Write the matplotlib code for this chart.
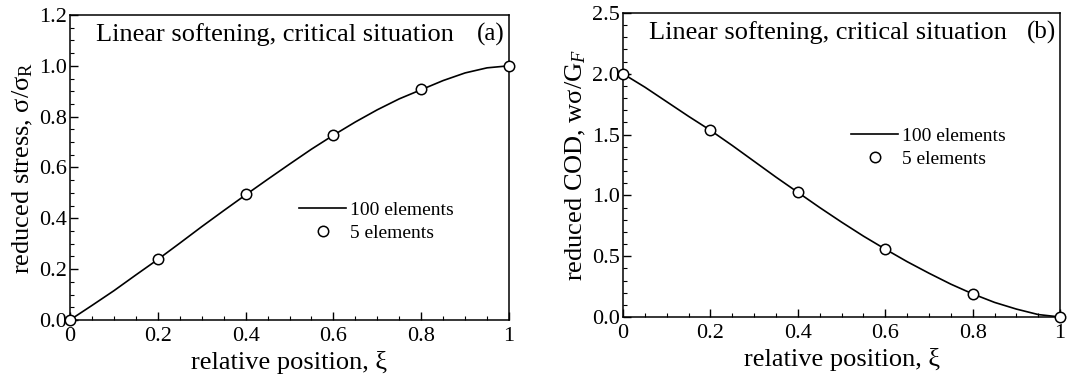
import numpy as np
import matplotlib
matplotlib.use("Agg")
import matplotlib.pyplot as plt
from matplotlib.ticker import MultipleLocator, FixedLocator, FormatStrFormatter

plt.rcParams['font.family'] = ['Liberation Serif', 'DejaVu Serif']
plt.rcParams['mathtext.fontset'] = 'custom'
plt.rcParams['mathtext.rm'] = 'Liberation Serif'
plt.rcParams['mathtext.it'] = 'Liberation Serif:italic'

# fine mesh (100 elements), read at steps of 0.05
xi_fine = [0, 0.05, 0.1, 0.15, 0.2, 0.25, 0.3, 0.35, 0.4, 0.45, 0.5,
           0.55, 0.6, 0.65, 0.7, 0.75, 0.8, 0.85, 0.9, 0.95, 1.0]
stress_fine = [0, 0.057, 0.115, 0.177, 0.238, 0.302, 0.367, 0.430, 0.492,
               0.553, 0.613, 0.672, 0.727, 0.779, 0.827, 0.870, 0.906,
               0.942, 0.972, 0.992, 1.0]
cod_fine = [2.0, 1.89, 1.77, 1.65, 1.535, 1.41, 1.28, 1.15, 1.025, 0.90,
            0.78, 0.665, 0.558, 0.455, 0.36, 0.27, 0.19, 0.12, 0.065,
            0.02, 0.0]

# coarse mesh (5 elements)
xi_coarse = [0, 0.2, 0.4, 0.6, 0.8, 1.0]
stress_coarse = [0, 0.24, 0.494, 0.728, 0.907, 1.0]
cod_coarse = [2.0, 1.538, 1.025, 0.559, 0.189, 0.0]

xticks = [0, 0.2, 0.4, 0.6, 0.8, 1]
xticklabels = ['0', '0.2', '0.4', '0.6', '0.8', '1']

fig = plt.figure(figsize=(10.9, 3.8), dpi=100)
axa = fig.add_axes([0.0642, 0.158, 0.4028, 0.8026])
axb = fig.add_axes([0.5716, 0.1658, 0.401, 0.80])

panels = [
    (axa, stress_fine, stress_coarse, 1.2, 0.2, 0.05,
     'reduced stress, σ/σ$_\\mathrm{R}$', '(a)', 0.42),
    (axb, cod_fine, cod_coarse, 2.5, 0.5, 0.1,
     'reduced COD, wσ/G$_\\mathit{F}$', '(b)', 0.655),
]

for ax, fine, coarse, ymax, ymaj, ymin, ylabel, tag, leg_y in panels:
    ax.plot(xi_fine, fine, color='black', lw=1.2, label='100 elements')
    ax.plot(xi_coarse, coarse, ls='none', marker='o', ms=7.5, mfc='white',
            mec='black', mew=1.1, clip_on=False, zorder=3, label='5 elements')
    ax.set_xlim(0, 1)
    ax.set_ylim(0, ymax)
    ax.xaxis.set_major_locator(FixedLocator(xticks))
    ax.set_xticklabels(xticklabels)
    ax.xaxis.set_minor_locator(MultipleLocator(0.05))
    ax.yaxis.set_major_locator(MultipleLocator(ymaj))
    ax.yaxis.set_minor_locator(MultipleLocator(ymin))
    ax.yaxis.set_major_formatter(FormatStrFormatter('%.1f'))
    ax.tick_params(which='both', direction='in', top=False, right=False,
                   labelsize=16)
    ax.tick_params(axis='x', pad=5)
    ax.tick_params(axis='y', pad=2)
    ax.tick_params(which='major', length=6, width=1)
    ax.tick_params(which='minor', length=3, width=0.8)
    for sp in ax.spines.values():
        sp.set_linewidth(1.1)
    ax.set_xlabel('relative position, ξ', fontsize=19, labelpad=4)
    ax.set_ylabel(ylabel, fontsize=19, labelpad=3)
    ax.text(0.06, 0.975, 'Linear softening, critical situation',
            transform=ax.transAxes, fontsize=19, va='top', ha='left')
    ax.text(0.99, 0.975, tag, transform=ax.transAxes, fontsize=18,
            va='top', ha='right')
    ax.legend(loc='upper left', bbox_to_anchor=(0.5, leg_y), frameon=False,
              fontsize=14, handlelength=2.4, handletextpad=0.2,
              labelspacing=0.25, borderpad=0)

fig.savefig('out.png', dpi=100)
